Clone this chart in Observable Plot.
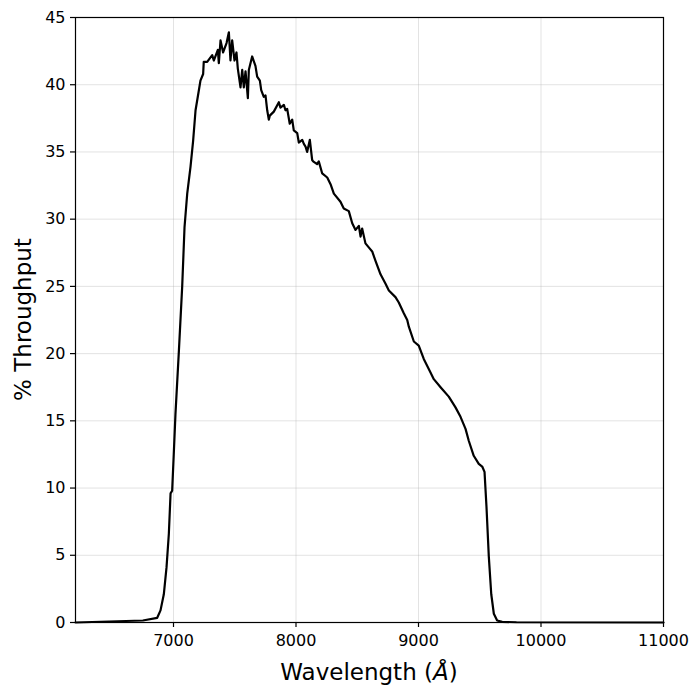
<!DOCTYPE html>
<html>
<head>
<meta charset="utf-8">
<script src="https://cdn.jsdelivr.net/npm/d3@7"></script>
<script src="https://cdn.jsdelivr.net/npm/@observablehq/plot@0.6"></script>
<style>
  html, body { margin: 0; padding: 0; background: #fff; }
  #chart { width: 690px; height: 687px; }
</style>
</head>
<body>
<div id="chart"></div>
<script>
const wavelength = [
  6200, 6750, 6867, 6894, 6921, 6943, 6962, 6976, 6989, 7002,
  7016, 7044, 7071, 7090, 7112, 7139, 7160, 7180, 7200, 7220,
  7242, 7247, 7275, 7316, 7329, 7362, 7370, 7384, 7405, 7433,
  7452, 7465, 7479, 7498, 7514, 7525, 7547, 7561, 7574, 7588,
  7607, 7615, 7642, 7669, 7683, 7705, 7716, 7737, 7751, 7765,
  7778, 7786, 7819, 7860, 7873, 7901, 7914, 7928, 7949, 7969,
  7982, 8010, 8023, 8051, 8064, 8078, 8091, 8113, 8132, 8140,
  8172, 8186, 8214, 8255, 8282, 8309, 8363, 8390, 8431, 8459,
  8486, 8513, 8527, 8540, 8567, 8594, 8622, 8649, 8690, 8731,
  8758, 8812, 8839, 8880, 8908, 8921, 8962, 9002, 9043, 9098,
  9125, 9180, 9247, 9302, 9343, 9384, 9411, 9451, 9492, 9520,
  9539, 9555, 9574, 9594, 9615, 9642, 9683, 9800, 11000
];
const throughput = [
  0, 0.15, 0.35, 0.9, 2.1, 4.1, 6.6, 9.6, 9.8, 12.5,
  15.5, 20.2, 25.0, 29.4, 31.9, 33.9, 35.8, 38.1, 39.2, 40.3,
  40.8, 41.7, 41.7, 42.2, 41.8, 42.6, 41.6, 43.3, 42.4, 43.1,
  43.9, 41.8, 43.3, 41.8, 42.4, 41.2, 39.8, 41.1, 39.8, 41.0,
  39.0, 41.1, 42.1, 41.4, 40.6, 40.3, 39.6, 39.1, 39.2, 38.1,
  37.4, 37.7, 38.0, 38.7, 38.3, 38.5, 38.1, 38.2, 37.1, 37.4,
  36.6, 36.4, 35.7, 35.9, 35.6, 35.4, 35.0, 35.9, 34.4, 34.3,
  34.1, 34.3, 33.4, 33.1, 32.6, 31.9, 31.3, 30.8, 30.6, 29.7,
  29.2, 29.5, 28.7, 29.3, 28.2, 27.9, 27.6, 26.9, 25.9, 25.2,
  24.7, 24.2, 23.8, 23.0, 22.5, 22.0, 20.9, 20.6, 19.6, 18.6,
  18.1, 17.5, 16.8, 16.0, 15.3, 14.4, 13.5, 12.4, 11.8, 11.6,
  11.2, 8.6, 4.9, 2.1, 0.65, 0.15, 0.05, 0.02, 0
];
const xTicks = [7000, 8000, 9000, 10000, 11000];
const yTicks = [0, 5, 10, 15, 20, 25, 30, 35, 40, 45];
const xLabel = "Wavelength (";
const xLabelUnit = "Å";
const yLabel = "% Throughput";

const data = wavelength.map((w, i) => ({w, t: throughput[i]}));

const W = 690, H = 687;
const mL = 75, mR = 27, mT = 17, mB = 65;

const plot = Plot.plot({
  width: W,
  height: H,
  marginLeft: mL,
  marginRight: mR,
  marginTop: mT,
  marginBottom: mB,
  style: {fontFamily: "DejaVu Sans", fontSize: "16px", color: "#000", background: "#fff", overflow: "visible"},
  x: {domain: [6200, 11000]},
  y: {domain: [0, 45]},
  marks: [
    Plot.gridX(xTicks, {stroke: "#b0b0b0", strokeOpacity: 0.35, strokeWidth: 1}),
    Plot.gridY(yTicks, {stroke: "#b0b0b0", strokeOpacity: 0.35, strokeWidth: 1}),
    Plot.line(data, {x: "w", y: "t", stroke: "#000", strokeWidth: 2.2, curve: "linear"}),
    Plot.frame({stroke: "#000", strokeWidth: 1.2}),
    Plot.axisX(xTicks, {tickSize: 5, tickPadding: 7, tickFormat: d => String(d), label: null, strokeWidth: 1.2}),
    Plot.axisY(yTicks, {tickSize: 5, tickPadding: 5, tickFormat: d => String(d), label: null, strokeWidth: 1.2})
  ]
});

document.getElementById("chart").appendChild(plot);

const svg = d3.select(plot);
const cx = mL + (W - mL - mR) / 2;
const cy = mT + (H - mT - mB) / 2;
const xl = svg.append("text")
  .attr("x", cx).attr("y", 680)
  .attr("text-anchor", "middle")
  .style("font-family", "DejaVu Sans")
  .style("font-size", "23px")
  .attr("fill", "#000");
xl.append("tspan").text(xLabel);
xl.append("tspan").style("font-style", "italic").text(xLabelUnit);
xl.append("tspan").text(")");

svg.append("text")
  .attr("transform", `translate(31,${cy}) rotate(-90)`)
  .attr("text-anchor", "middle")
  .style("font-family", "DejaVu Sans")
  .style("font-size", "23px")
  .attr("fill", "#000")
  .text(yLabel);
</script>
</body>
</html>
